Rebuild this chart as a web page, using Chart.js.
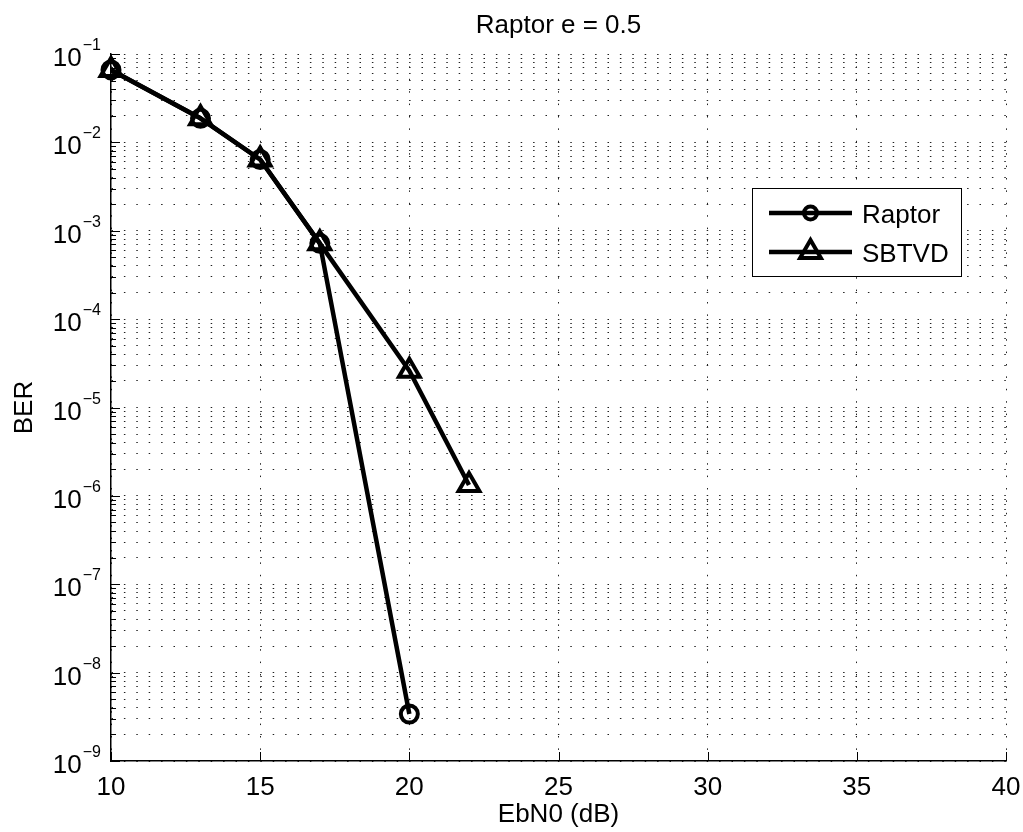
<!DOCTYPE html>
<html>
<head>
<meta charset="utf-8">
<title>Raptor e = 0.5</title>
<script src="https://cdn.jsdelivr.net/npm/chart.js@4/dist/chart.umd.min.js"></script>
<style>
    html, body { margin: 0; padding: 0; background: #fff; }
    #wrap { width: 1023px; height: 832px; }
</style>
</head>
<body>
<div id="wrap"><canvas id="berChart" width="1023" height="832"></canvas></div>
<script>
// simulated BER curves, EbN0 in dB
const raptorEbN0 = [10, 13, 15, 17, 20];
const raptorBer = [0.066, 0.0187, 0.0064, 7.2e-4, 3.4e-9];
const sbtvdEbN0 = [10, 13, 15, 17, 20, 22];
const sbtvdBer = [0.066, 0.0187, 0.0064, 7.2e-4, 2.6e-5, 1.33e-6];

const xTickLabels = ['10', '15', '20', '25', '30', '35', '40'];
const yDecades = [-9, -8, -7, -6, -5, -4, -3, -2, -1];
const ySubSteps = [1, 2, 3, 4, 5, 6, 7, 8, 9];

const FONT = "'Liberation Sans', Arial, Helvetica, sans-serif";

// 1..9 x 10^e for every decade, last one is 10^-1 itself
const yTicks = [];
yDecades.forEach(e => {
    ySubSteps.forEach(s => {
        if (e === -1 && s > 1) return;
        yTicks.push(+(s * Math.pow(10, e)).toPrecision(3));
    });
});

function toPoints(xs, ys) {
    return xs.map((x, i) => ({ x: x, y: ys[i] }));
}

function drawMarker(ctx, style, x, y, r) {
    ctx.beginPath();
    if (style === 'circle') {
        ctx.arc(x, y, r, 0, Math.PI * 2);
    } else {
        let rad = 0;
        ctx.moveTo(x + Math.sin(rad) * r, y - Math.cos(rad) * r);
        rad += Math.PI * 2 / 3;
        ctx.lineTo(x + Math.sin(rad) * r, y - Math.cos(rad) * r);
        rad += Math.PI * 2 / 3;
        ctx.lineTo(x + Math.sin(rad) * r, y - Math.cos(rad) * r);
        ctx.closePath();
    }
    ctx.stroke();
}

// inward tick marks, like a matlab axis
const tickMarks = {
    id: 'tickMarks',
    beforeDatasetsDraw(chart) {
        const { ctx, chartArea, scales } = chart;
        ctx.save();
        ctx.strokeStyle = '#000';
        ctx.lineWidth = 1;
        scales.x.ticks.forEach(t => {
            const px = Math.round(scales.x.getPixelForValue(t.value)) + 0.5;
            ctx.beginPath();
            ctx.moveTo(px, chartArea.bottom);
            ctx.lineTo(px, chartArea.bottom - 9);
            ctx.stroke();
        });
        scales.y.ticks.forEach(t => {
            const py = Math.round(scales.y.getPixelForValue(t.value)) + 0.5;
            const major = Math.abs(Math.log10(t.value) - Math.round(Math.log10(t.value))) < 1e-6;
            ctx.beginPath();
            ctx.moveTo(chartArea.left, py);
            ctx.lineTo(chartArea.left + (major ? 9 : 5), py);
            ctx.stroke();
        });
        ctx.restore();
    }
};

// title, axis labels, tick labels with superscript exponents, legend box
const annotations = {
    id: 'annotations',
    afterDraw(chart) {
        const { ctx, chartArea, scales } = chart;
        const midX = (chartArea.left + chartArea.right) / 2;
        const midY = (chartArea.top + chartArea.bottom) / 2;
        ctx.save();
        ctx.fillStyle = '#000';

        ctx.font = '26px ' + FONT;
        ctx.textAlign = 'center';
        ctx.textBaseline = 'alphabetic';
        ctx.fillText('Raptor e = 0.5', midX, 33);
        ctx.fillText('EbN0 (dB)', midX, 822);

        xTickLabels.forEach(label => {
            const px = scales.x.getPixelForValue(Number(label));
            ctx.fillText(label, px, chartArea.bottom + 34);
        });

        ctx.save();
        ctx.translate(32, midY);
        ctx.rotate(-Math.PI / 2);
        ctx.fillText('BER', 0, 0);
        ctx.restore();

        ctx.textAlign = 'right';
        yDecades.forEach(e => {
            const py = scales.y.getPixelForValue(Math.pow(10, e));
            const sup = '\u2212' + Math.abs(e);
            ctx.font = '16px ' + FONT;
            const supW = ctx.measureText(sup).width;
            ctx.fillText(sup, 101, py - 4);
            ctx.font = '26px ' + FONT;
            ctx.fillText('10', 101 - supW - 1, py + 12);
        });
        ctx.restore();

        // legend
        ctx.save();
        const box = { x: 752.5, y: 188.5, w: 209, h: 88 };
        ctx.fillStyle = '#fff';
        ctx.fillRect(box.x, box.y, box.w, box.h);
        ctx.strokeStyle = '#000';
        ctx.lineWidth = 1;
        ctx.strokeRect(box.x, box.y, box.w, box.h);
        chart.data.datasets.forEach((ds, i) => {
            const ly = i === 0 ? 213 : 252;
            ctx.strokeStyle = '#000';
            ctx.lineWidth = 4.5;
            ctx.beginPath();
            ctx.moveTo(769, ly);
            ctx.lineTo(852, ly);
            ctx.stroke();
            ctx.lineWidth = 4;
            drawMarker(ctx, ds.pointStyle, 810.5, ly, ds.pointStyle === 'circle' ? 6.5 : 12);
            ctx.fillStyle = '#000';
            ctx.font = '26px ' + FONT;
            ctx.textAlign = 'left';
            ctx.textBaseline = 'alphabetic';
            ctx.fillText(ds.label, 862, ly + 9.5);
        });
        ctx.restore();
    }
};

const dotted = [1.5, 10.9];

new Chart(document.getElementById('berChart').getContext('2d'), {
    type: 'line',
    data: {
        datasets: [{
            label: 'Raptor',
            data: toPoints(raptorEbN0, raptorBer),
            borderColor: '#000',
            borderWidth: 4.5,
            borderJoinStyle: 'round',
            pointStyle: 'circle',
            pointRadius: 8.5,
            pointBorderWidth: 4,
            pointBorderColor: '#000',
            pointBackgroundColor: 'rgba(0,0,0,0)',
            tension: 0,
            clip: false,
            order: 1
        }, {
            label: 'SBTVD',
            data: toPoints(sbtvdEbN0, sbtvdBer),
            borderColor: '#000',
            borderWidth: 4.5,
            borderJoinStyle: 'round',
            pointStyle: 'triangle',
            pointRadius: 12,
            pointBorderWidth: 4,
            pointBorderColor: '#000',
            pointBackgroundColor: 'rgba(0,0,0,0)',
            tension: 0,
            clip: false,
            order: 0
        }]
    },
    options: {
        responsive: false,
        animation: false,
        devicePixelRatio: 1,
        layout: { padding: { top: 54, right: 17, left: 0, bottom: 0 } },
        plugins: {
            legend: { display: false },
            tooltip: { enabled: false },
            title: { display: false }
        },
        scales: {
            x: {
                type: 'linear',
                min: 10,
                max: 40,
                ticks: { stepSize: 5, display: false },
                grid: { color: '#222', lineWidth: 1, drawTicks: false },
                border: { display: true, color: '#000', width: 1.5, dash: dotted },
                afterFit(scale) { scale.height = 71; }
            },
            y: {
                type: 'logarithmic',
                min: 1e-9,
                max: 1e-1,
                ticks: { display: false },
                afterBuildTicks(scale) {
                    scale.ticks = yTicks.map(v => ({ value: v }));
                },
                grid: { color: '#222', lineWidth: 1, drawTicks: false },
                border: { display: true, color: '#000', width: 1.5, dash: dotted },
                afterFit(scale) { scale.width = 111; }
            }
        }
    },
    plugins: [tickMarks, annotations]
});
</script>
</body>
</html>
